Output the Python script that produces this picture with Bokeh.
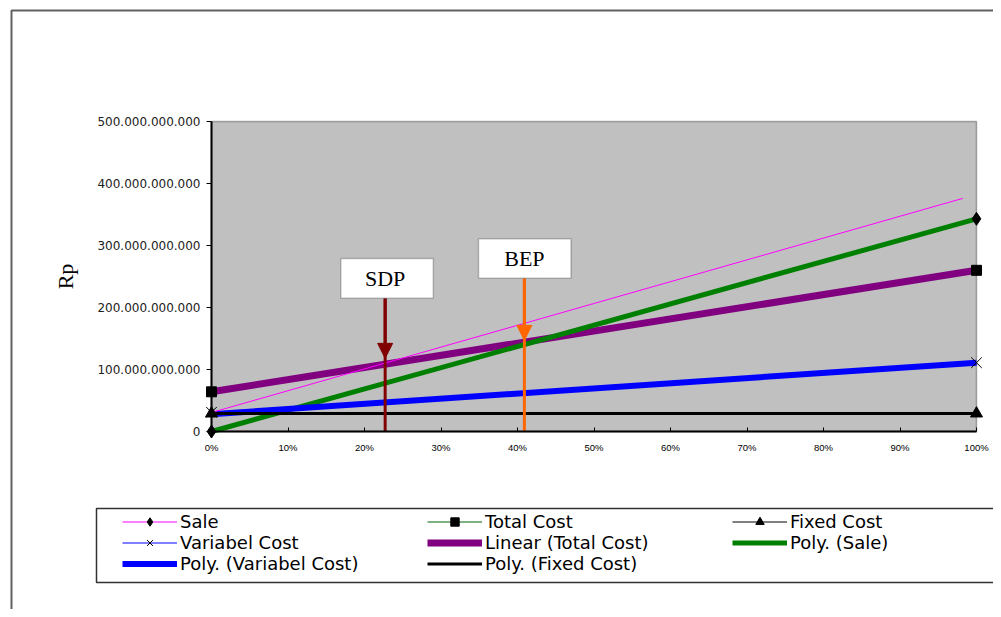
from bokeh.plotting import figure
from bokeh.models import (Range1d, FixedTicker, Legend, LegendItem, BoxAnnotation,
                          Label, Arrow, NormalHead)
from bokeh.embed import file_html
from bokeh.resources import INLINE

# ---- data ----
pct = [0, 100]                       # activity level, %
sale = [0, 343e9]
total_cost = [64e9, 260e9]
fixed_cost = [29e9, 29e9]
variable_cost = [31e9, 111e9]

sale_line_x = [0, 98.2]
sale_line_y = [30.6e9, 376e9]

linear_total_cost = [64e9, 260e9]
poly_sale = [0, 343e9]
poly_variable_cost = [28e9, 111e9]
poly_fixed_cost = [29e9, 29e9]

x_ticks = [0, 10, 20, 30, 40, 50, 60, 70, 80, 90, 100]
x_tick_labels = ["0%", "10%", "20%", "30%", "40%", "50%", "60%", "70%", "80%", "90%", "100%"]
y_ticks = [0, 100e9, 200e9, 300e9, 400e9, 500e9]
y_tick_labels = ["0", "100.000.000.000", "200.000.000.000", "300.000.000.000",
                 "400.000.000.000", "500.000.000.000"]

point_names = ["SDP", "BEP"]
point_x = [22.7, 40.9]
point_tip = [118e9, 147e9]
point_colors = ["#800000", "#FF6600"]
box_left = [16.9, 34.9]
box_right = [29.0, 47.0]
box_bottom = [215e9, 247e9]
box_top = [279e9, 311e9]

# ---- layout (canvas pixels) ----
W, H = 993, 609
FL, FR, FT, FB = 211, 976, 121, 431          # plot area edges
X0, X1, Y0, Y1 = 0, 100, 0, 500e9


def px_x(px):
    return X0 + (px - FL) * (X1 - X0) / (FR - FL)


def px_y(py):
    return Y0 + (FB - py) * (Y1 - Y0) / (FB - FT)


# The frame covers the whole canvas; the axes are pinned to the plot area.
p = figure(width=W, height=H, x_range=Range1d(px_x(0), px_x(W)), y_range=Range1d(px_y(H), px_y(0)),
           output_backend="svg", toolbar_location=None,
           min_border=0, min_border_left=0, min_border_right=0, min_border_top=0, min_border_bottom=0)
p.background_fill_color = "white"
p.border_fill_color = "white"
p.outline_line_color = None
p.xgrid.visible = False
p.ygrid.visible = False

# plot area
p.add_layout(BoxAnnotation(left=X0, right=X1, bottom=Y0, top=Y1, fill_color="#C0C0C0", fill_alpha=1,
                           line_color="black", line_width=1.5, level="underlay"))

p.xaxis.fixed_location = Y0
p.xaxis.bounds = (X0, X1)
p.xaxis.ticker = FixedTicker(ticks=x_ticks)
p.xaxis.major_label_overrides = dict(zip(x_ticks, x_tick_labels))
p.xaxis.major_tick_in = 4
p.xaxis.major_tick_out = 0
p.xaxis.minor_tick_line_color = None
p.xaxis.axis_line_width = 2
p.xaxis.major_label_standoff = 10
p.xaxis.major_label_text_font = "Liberation Sans"
p.xaxis.major_label_text_font_size = "9.5px"
p.xaxis.major_label_text_color = "black"

p.yaxis.fixed_location = X0
p.yaxis.bounds = (Y0, Y1)
p.yaxis.ticker = FixedTicker(ticks=y_ticks)
p.yaxis.major_label_overrides = dict(zip(y_ticks, y_tick_labels))
p.yaxis.major_tick_in = 0
p.yaxis.major_tick_out = 5
p.yaxis.minor_tick_line_color = None
p.yaxis.axis_line_width = 2
p.yaxis.major_label_standoff = 6
p.yaxis.major_label_text_font = "DejaVu Sans"
p.yaxis.major_label_text_font_size = "12px"
p.yaxis.major_label_text_color = "#222222"
p.yaxis.axis_label = "Rp"
p.yaxis.axis_label_text_font = "Liberation Serif"
p.yaxis.axis_label_text_font_style = "normal"
p.yaxis.axis_label_text_font_size = "22px"
p.yaxis.axis_label_text_color = "black"
p.yaxis.axis_label_standoff = 16

# series lines (thin)
r_tc_line = p.line(pct, total_cost, line_color="#006400", line_width=1)
r_vc_line = p.line(pct, variable_cost, line_color="#0000FF", line_width=1)
r_fc_line = p.line(pct, fixed_cost, line_color="black", line_width=1)

# trend lines
r_lin_tc = p.line(pct, linear_total_cost, line_color="#800080", line_width=7)
r_poly_sale = p.line(pct, poly_sale, line_color="#008000", line_width=5)
r_poly_vc = p.line(pct, poly_variable_cost, line_color="#0000FF", line_width=6)
r_poly_fc = p.line(pct, poly_fixed_cost, line_color="black", line_width=3)

r_sale_line = p.line(sale_line_x, sale_line_y, line_color="#FF00FF", line_width=1)

# SDP / BEP vertical arrows
p.segment(x0=point_x, y0=box_bottom, x1=point_x, y1=[Y0, Y0],
          line_color=point_colors, line_width=3)
for i in range(len(point_names)):
    c = point_colors[i]
    p.add_layout(Arrow(x_start=point_x[i], y_start=box_bottom[i], x_end=point_x[i], y_end=point_tip[i],
                       line_color=c, line_width=3,
                       end=NormalHead(size=15, fill_color=c, line_color=c)))
    p.add_layout(BoxAnnotation(left=box_left[i], right=box_right[i], bottom=box_bottom[i], top=box_top[i],
                               fill_color="white", fill_alpha=1, line_color="#333333", line_width=1.5,
                               level="annotation"))
    p.add_layout(Label(x=point_x[i], y=(box_bottom[i] + box_top[i]) / 2, text=point_names[i],
                       text_align="center", text_baseline="middle",
                       text_font="Liberation Serif", text_font_size="22px", text_color="black"))

# markers
r_sale_pts = p.scatter(pct, sale, marker="diamond", size=13, color="black", level="overlay")
r_tc_pts = p.scatter(pct, total_cost, marker="square", size=10, color="black", level="overlay")
r_fc_pts = p.scatter(pct, fixed_cost, marker="triangle", size=12, color="black", level="overlay")
r_vc_pts = p.scatter(pct, variable_cost, marker="x", size=15, line_color="black", line_width=1,
                     level="overlay")

# outer chart frame and legend frame (decoration, positioned in canvas pixels)
p.quad(left=[px_x(11)], right=[px_x(1400)], top=[px_y(10)], bottom=[px_y(900)],
       fill_alpha=0, line_color="#606060", line_width=2, level="overlay")
p.quad(left=[px_x(96)], right=[px_x(1400)], top=[px_y(508)], bottom=[px_y(582)],
       fill_alpha=0, line_color="#333333", line_width=1.5, level="overlay")

items = [
    LegendItem(label="Sale", renderers=[r_sale_line, r_sale_pts]),
    LegendItem(label="Total Cost", renderers=[r_tc_line, r_tc_pts]),
    LegendItem(label="Fixed Cost", renderers=[r_fc_line, r_fc_pts]),
    LegendItem(label="Variabel Cost", renderers=[r_vc_line, r_vc_pts]),
    LegendItem(label="Linear (Total Cost)", renderers=[r_lin_tc]),
    LegendItem(label="Poly. (Sale)", renderers=[r_poly_sale]),
    LegendItem(label="Poly. (Variabel Cost)", renderers=[r_poly_vc]),
    LegendItem(label="Poly. (Fixed Cost)", renderers=[r_poly_fc]),
]
legend = Legend(items=items, location=(122, H - 574), orientation="horizontal", ncols=3,
                glyph_width=55, glyph_height=21, label_height=21, label_width=247,
                label_standoff=3, spacing=0, padding=0, margin=0,
                border_line_alpha=0, background_fill_alpha=0,
                label_text_font="DejaVu Sans", label_text_font_size="18px",
                label_text_color="black")
p.add_layout(legend)

open("out.html", "w").write(file_html(p, INLINE))
